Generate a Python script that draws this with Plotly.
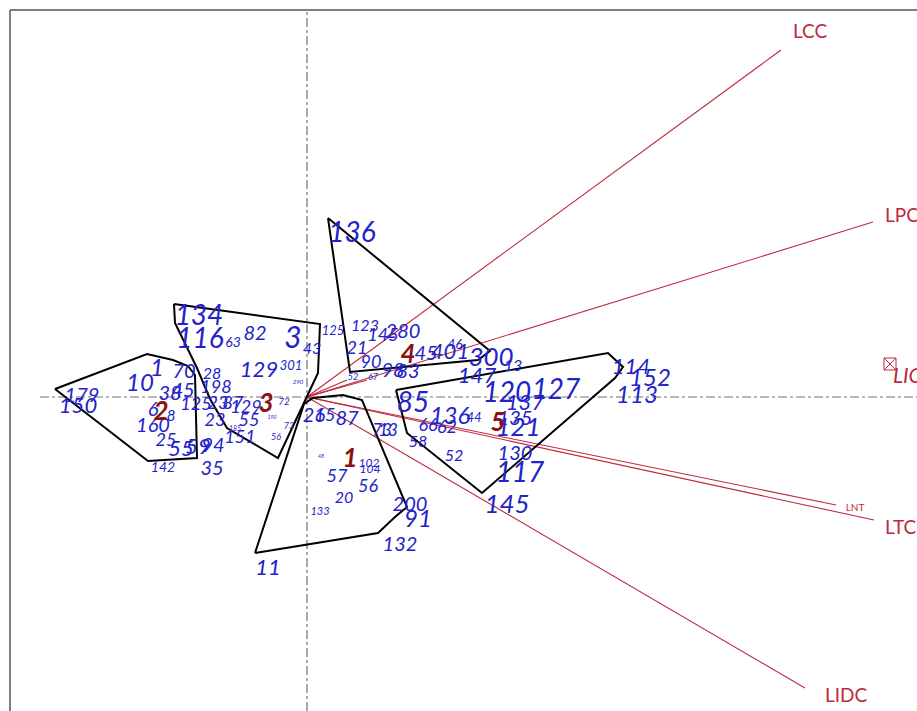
import plotly.graph_objects as go

# ---- observation labels (PCA scores) ----
obs_labels = ["179","150","10","1","70","38","45","6","8","160","25","55","59","94","142","35",
              "134","116","63","82","3","43","129","301","290","28","198","125","23","87","129","72",
              "23","55","151","185","190","73","56",
              "125","26","15","87","73","13","102","104","57","56","20","133","200","91","132","11","48",
              "136","123","145","280","21","90","52","67","98","83","45","401","46","300","13","147",
              "85","136","44","66","62","58","52","120","127","137","135","121","130","117","145",
              "114","152","113"]
obs_x = [-2.25,-2.29,-1.67,-1.50,-1.23,-1.37,-1.24,-1.54,-1.36,-1.54,-1.41,-1.26,-1.09,-0.94,-1.44,-0.95,
         -1.08,-1.07,-0.74,-0.52,-0.14,0.05,-0.48,-0.16,-0.09,-0.95,-0.91,-1.11,-0.89,-0.74,-0.61,-0.23,
         -0.92,-0.58,-0.67,-0.72,-0.35,-0.18,-0.31,
         0.26,0.07,0.18,0.40,0.75,0.81,0.62,0.63,0.30,0.61,0.37,0.13,1.03,1.11,0.93,-0.39,0.14,
         0.45,0.58,0.76,0.96,0.50,0.64,0.46,0.66,0.86,1.01,1.19,1.43,1.48,1.84,2.06,1.70,
         1.06,1.43,1.67,1.21,1.40,1.11,1.47,2.00,2.49,2.18,2.08,2.11,2.08,2.13,2.00,
         3.24,3.43,3.30]
obs_y = [0.00,-0.10,0.12,0.27,0.24,0.02,0.05,-0.14,-0.20,-0.30,-0.44,-0.53,-0.51,-0.50,-0.71,-0.73,
         0.79,0.56,0.54,0.62,0.57,0.47,0.26,0.30,0.15,0.22,0.09,-0.08,-0.07,-0.07,-0.11,-0.05,
         -0.24,-0.24,-0.41,-0.32,-0.21,-0.30,-0.41,
         0.65,-0.20,-0.19,-0.23,-0.35,-0.35,-0.67,-0.73,-0.80,-0.90,-1.02,-1.15,-1.09,-1.24,-1.49,-1.72,-0.60,
         1.62,0.70,0.61,0.64,0.48,0.34,0.19,0.19,0.25,0.24,0.42,0.44,0.52,0.38,0.30,0.20,
         -0.08,-0.21,-0.22,-0.29,-0.31,-0.46,-0.60,0.02,0.05,-0.07,-0.23,-0.32,-0.58,-0.78,-1.09,
         0.29,0.17,0.00]
obs_size = [20,22,24,24,20,20,20,20,15,20,18,22,22,20,14,20,
            28,28,14,20,30,16,22,13,6,16,18,18,18,18,18,10,
            18,18,18,7,5,9,9,
            13,20,18,20,17,17,12,12,18,18,16,11,20,24,20,22,5,
            28,16,18,20,18,18,9,9,20,20,20,22,14,26,16,22,
            28,24,13,18,18,16,16,28,28,22,20,26,20,28,26,
            22,24,24]

# ---- cluster centroids ----
cen_labels = ["1","2","3","4","5"]
cen_x = [0.43,-1.46,-0.41,1.01,1.91]
cen_y = [-0.63,-0.16,-0.08,0.41,-0.27]

# ---- cluster hulls ----
hulls = {
    "1": ([-0.52,0.71,0.88,1.00,0.55,0.36,0.06,-0.03], [-1.56,-1.36,-1.20,-1.10,-0.03,0.02,-0.01,-0.07]),
    "2": ([-2.52,-1.60,-1.34,-1.19,-1.12,-1.10,-1.59], [0.08,0.43,0.37,0.31,0.22,-0.61,-0.64]),
    "3": ([-1.33,0.13,0.11,-0.29,-0.80,-0.97,-1.10,-1.32], [0.93,0.73,0.24,-0.61,-0.31,-0.02,0.29,0.74]),
    "4": ([0.21,1.83,1.71,0.43], [1.79,0.46,0.37,0.25]),
    "5": ([0.89,3.01,3.16,3.08,1.75,1.00], [0.07,0.44,0.30,0.19,-0.96,-0.36]),
}

# ---- variable loadings ----
var_names = ["LCC","LPC","LNT","LTC","LIDC"]
var_x = [4.74,5.66,5.29,5.67,4.98]
var_y = [3.47,1.75,-1.08,-1.23,-2.91]
var_lab_x = [5.03,5.78,5.48,5.78,5.18]
var_lab_y = [3.64,1.80,-1.11,-1.32,-3.00]
var_lab_size = [19,19,10,19,19]
var_lab_anchor = ["middle center","middle right","middle center","middle right","middle right"]
short_x = [0.40,0.60]
short_y = [0.17,0.17]
lic_x, lic_y = 5.83, 0.33

RED = "#C0283C"
BLUE = "#2323C8"
DARKRED = "#8B1212"

fig = go.Figure()

# axes cross
fig.add_trace(go.Scatter(x=[-2.67, 6.10], y=[0, 0], mode="lines",
                         line=dict(color="#707070", width=1.2, dash="dashdot"), hoverinfo="skip"))
fig.add_trace(go.Scatter(x=[0, 0], y=[-3.14, 3.87], mode="lines",
                         line=dict(color="#707070", width=1.2, dash="dashdot"), hoverinfo="skip"))

# vectors
for vx, vy in zip(var_x + short_x, var_y + short_y):
    fig.add_trace(go.Scatter(x=[0, vx], y=[0, vy], mode="lines",
                             line=dict(color=RED, width=1.1), hoverinfo="skip"))
fig.add_trace(go.Scatter(x=var_lab_x, y=var_lab_y, mode="text", text=var_names,
                         textposition=var_lab_anchor,
                         textfont=dict(family="Lato", size=var_lab_size, color=RED)))
fig.add_trace(go.Scatter(x=[lic_x], y=[lic_y], mode="markers",
                         marker=dict(symbol="square-x-open", size=12, color=RED, line=dict(width=1))))
fig.add_trace(go.Scatter(x=[lic_x + 0.03], y=[lic_y - 0.14], mode="text", text=["<i>LIC</i>"],
                         textposition="middle right",
                         textfont=dict(family="Lato", size=21, color=RED)))

# hulls
for k, (hx, hy) in hulls.items():
    fig.add_trace(go.Scatter(x=hx + [hx[0]], y=hy + [hy[0]], mode="lines",
                             line=dict(color="black", width=2), hoverinfo="skip"))

# observation labels
fig.add_trace(go.Scatter(x=obs_x, y=obs_y, mode="text",
                         text=["<i>%s</i>" % t for t in obs_labels],
                         textposition="middle center",
                         textfont=dict(family="Lato", size=obs_size, color=BLUE)))

# centroid labels
fig.add_trace(go.Scatter(x=cen_x, y=cen_y, mode="text",
                         text=["<b><i>%s</i></b>" % t for t in cen_labels],
                         textposition="middle center",
                         textfont=dict(family="Lato", size=26, color=DARKRED)))

fig.update_layout(
    width=917, height=711,
    margin=dict(l=10, r=0, t=10, b=0),
    paper_bgcolor="white", plot_bgcolor="white",
    showlegend=False,
    xaxis=dict(range=[-2.97, 6.10], visible=False),
    yaxis=dict(range=[-3.14, 3.87], visible=False),
    shapes=[
        dict(type="line", xref="paper", yref="paper", x0=0, x1=0, y0=0, y1=1,
             line=dict(color="#555555", width=1.5)),
        dict(type="line", xref="paper", yref="paper", x0=0, x1=1, y0=1, y1=1,
             line=dict(color="#555555", width=1.5)),
    ],
)

fig.write_html("out.html")
